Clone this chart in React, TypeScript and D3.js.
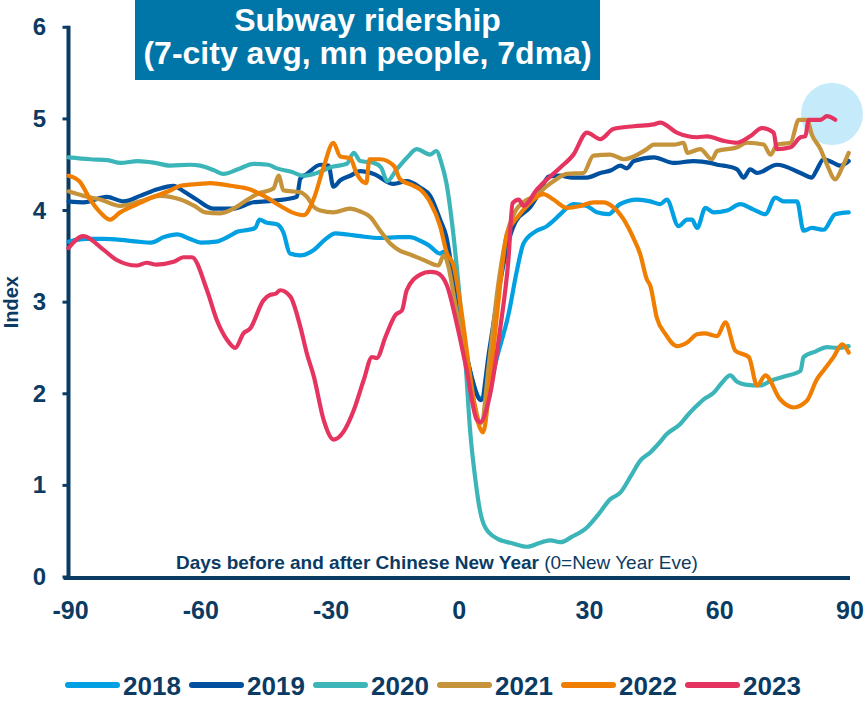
import React from 'react';
import * as d3 from 'd3';

type Pt = [number, number];

const years = ['2018', '2019', '2020', '2021', '2022', '2023'];
const xTicks = [-90, -60, -30, 0, 30, 60, 90];
const yTicks = [0, 1, 2, 3, 4, 5, 6];

const s2018: Pt[] = [
  [-90, 3.66], [-86, 3.69], [-82, 3.69], [-78, 3.68], [-74, 3.66], [-71, 3.65], [-68, 3.71], [-65, 3.74], [-62, 3.69],
  [-59.5, 3.65], [-56, 3.66], [-53, 3.72], [-51, 3.77], [-48.5, 3.79], [-47, 3.81], [-46, 3.90], [-44.5, 3.87],
  [-42, 3.85], [-40.5, 3.76], [-39, 3.53], [-36.6, 3.51], [-33.5, 3.57], [-31, 3.68], [-28.5, 3.75], [-26, 3.74],
  [-22.8, 3.72], [-18.2, 3.70], [-14, 3.71], [-11.3, 3.71], [-9, 3.67], [-7, 3.62], [-4.4, 3.53], [-3.6, 3.55],
  [-2.5, 3.45], [-1, 3.15], [1, 2.6], [3, 2.15], [5, 1.95], [6.5, 2.0], [8.7, 2.4], [11.4, 2.88], [13.3, 3.35],
  [14.8, 3.64], [17.5, 3.77], [20.2, 3.83], [21.5, 3.88], [23.3, 3.96], [26.3, 4.07], [29.4, 4.05], [31.7, 3.98],
  [34.4, 3.96], [37, 4.07], [41, 4.12], [44, 4.10], [46.3, 4.07], [47.8, 4.12], [50.5, 3.83], [52.5, 3.90],
  [53.6, 3.90], [54.8, 3.81], [56.7, 4.03], [58.6, 3.98], [61.7, 4.0], [64.7, 4.07], [67.8, 4.01], [70.5, 3.96],
  [72.8, 4.14], [74.7, 4.10], [77.8, 4.10], [79.3, 3.78], [81.2, 3.81], [83.9, 3.79], [86.6, 3.96], [89.7, 3.98],
];

const s2019: Pt[] = [
  [-90, 4.10], [-86.5, 4.09], [-81.2, 4.15], [-77.3, 4.10], [-73.5, 4.16], [-69.7, 4.23], [-65.8, 4.27], [-63.5, 4.21],
  [-60.5, 4.12], [-56.6, 4.02], [-52, 4.02], [-47.4, 4.09], [-42, 4.11], [-37.4, 4.15], [-36.6, 4.35], [-35.1, 4.40],
  [-32, 4.50], [-30.1, 4.49], [-29, 4.26], [-27.4, 4.33], [-25.1, 4.38], [-22.8, 4.43], [-19.7, 4.40], [-15.1, 4.29],
  [-12.1, 4.32], [-9, 4.25], [-6.7, 4.16], [-4.4, 3.9], [-3, 3.72], [-1.5, 3.3], [0.5, 2.7], [2.5, 2.25], [5, 1.93],
  [7, 2.5], [9, 3.1], [11, 3.6], [13, 3.88], [16.4, 4.04], [18.5, 4.2], [20.6, 4.37], [23.3, 4.38], [26, 4.36],
  [29.4, 4.36], [32.5, 4.41], [35, 4.44], [37.1, 4.49], [38.6, 4.46], [40.2, 4.54], [44.8, 4.58], [49.4, 4.52],
  [54, 4.54], [57.8, 4.52], [59.4, 4.50], [60.9, 4.49], [64, 4.45], [65.5, 4.36], [67, 4.45], [68.6, 4.41],
  [73.2, 4.50], [78.6, 4.41], [81.2, 4.36], [82.4, 4.45], [83.9, 4.56], [86.2, 4.52], [87.8, 4.49], [89.7, 4.54],
];

const s2020: Pt[] = [
  [-90, 4.58], [-85, 4.56], [-81, 4.55], [-78, 4.52], [-74, 4.54], [-70, 4.52], [-66.6, 4.49], [-62, 4.50],
  [-59.7, 4.49], [-56.5, 4.44], [-54.3, 4.40], [-51, 4.45], [-47.4, 4.51], [-44, 4.50], [-42, 4.46], [-38.5, 4.42],
  [-36, 4.38], [-33.5, 4.40], [-29, 4.48], [-25.9, 4.51], [-24.3, 4.63], [-22.8, 4.54], [-19.7, 4.52], [-18, 4.47],
  [-16.6, 4.32], [-14.4, 4.45], [-12, 4.58], [-9.8, 4.67], [-6.7, 4.61], [-5.3, 4.65], [-4, 4.50], [-3, 4.31],
  [-1.5, 3.8], [0.2, 3.0], [1.5, 2.3], [2.5, 1.6], [3.7, 1.07], [4.8, 0.72], [6, 0.54], [8.7, 0.42], [12, 0.37],
  [15.6, 0.33], [19, 0.38], [21, 0.40], [23.3, 0.38], [26, 0.44], [29.4, 0.54], [32, 0.68], [34.8, 0.85],
  [37.1, 0.92], [39.5, 1.1], [41.7, 1.27], [44, 1.36], [46, 1.46], [47.8, 1.56], [50.9, 1.67], [52.5, 1.76],
  [54.5, 1.86], [56.3, 1.94], [58.6, 2.01], [60.5, 2.12], [62.4, 2.20], [64, 2.13], [65.9, 2.10], [69.3, 2.09],
  [71.7, 2.14], [75, 2.19], [78.6, 2.25], [79.3, 2.40], [82, 2.46], [84.7, 2.51], [87, 2.50], [89.7, 2.52],
];

const s2021: Pt[] = [
  [-90, 4.21], [-86.5, 4.16], [-82.7, 4.12], [-78, 4.05], [-73.5, 4.10], [-68.9, 4.16], [-64.2, 4.12], [-61, 4.05],
  [-58.5, 3.98], [-55, 3.97], [-52, 4.02], [-49.7, 4.09], [-46.6, 4.18], [-42.8, 4.24], [-41.6, 4.38], [-40.5, 4.22],
  [-36.6, 4.20], [-35.1, 4.15], [-33.5, 4.04], [-32, 4.0], [-29, 3.98], [-25.2, 4.02], [-22.8, 3.99], [-20.5, 3.93],
  [-18.2, 3.78], [-15.9, 3.64], [-13.6, 3.56], [-11.3, 3.52], [-8.2, 3.46], [-4.8, 3.40], [-3.6, 3.51], [-2.5, 3.39],
  [-1, 3.0], [1, 2.5], [3, 2.0], [5, 1.68], [7, 2.4], [9, 3.2], [11, 3.75], [13, 4.0], [15, 4.1], [17.9, 4.17],
  [20, 4.26], [21.7, 4.32], [24.8, 4.40], [28.6, 4.41], [30.9, 4.60], [34.8, 4.61], [37.9, 4.56], [43.2, 4.67],
  [44.8, 4.72], [49.4, 4.72], [51.7, 4.74], [52.5, 4.63], [55.5, 4.67], [58.2, 4.56], [59.4, 4.65], [64, 4.69],
  [66.3, 4.74], [70.1, 4.72], [71.7, 4.61], [73.2, 4.72], [76.3, 4.74], [78.2, 4.99], [80.1, 4.99], [81.2, 4.83],
  [83.2, 4.67], [84.7, 4.50], [86.6, 4.34], [88.2, 4.47], [89.7, 4.63],
];

const s2022: Pt[] = [
  [-90, 4.38], [-87.5, 4.32], [-85, 4.12], [-82.7, 3.98], [-80.4, 3.90], [-78.1, 3.98], [-75, 4.05], [-71, 4.14],
  [-67, 4.21], [-64.2, 4.27], [-60, 4.29], [-57.4, 4.30], [-52.7, 4.27], [-48.1, 4.23], [-45, 4.16], [-41.2, 4.05],
  [-38.5, 3.98], [-35.8, 3.95], [-33.5, 4.13], [-31.2, 4.48], [-29, 4.74], [-27.4, 4.59], [-25.1, 4.57], [-23.6, 4.40],
  [-21.4, 4.30], [-20.7, 4.56], [-18.2, 4.56], [-15.1, 4.49], [-13.6, 4.34], [-10.5, 4.27], [-9, 4.23], [-6.7, 4.09],
  [-4.4, 3.83], [-2.9, 3.54], [-1.3, 3.40], [0.5, 2.9], [2.5, 2.2], [4, 1.75], [5.5, 1.58], [7, 2.1], [9, 3.0],
  [11, 3.75], [13.3, 3.92], [15.6, 4.05], [19.4, 4.18], [21.7, 4.12], [24.8, 4.03], [27.9, 4.05], [30.9, 4.09],
  [33.2, 4.09], [36.3, 4.0], [37.9, 3.90], [40.2, 3.69], [41.7, 3.52], [43.2, 3.25], [44, 3.18], [45.5, 2.83],
  [47.5, 2.65], [50.1, 2.52], [52.5, 2.56], [54.8, 2.65], [56.5, 2.66], [59.4, 2.63], [61.3, 2.78], [63.6, 2.47],
  [66.7, 2.40], [68.6, 2.09], [70.5, 2.20], [73.9, 1.94], [77, 1.85], [80, 1.92], [82.4, 2.16], [84, 2.26],
  [86.2, 2.40], [88.2, 2.54], [89.7, 2.45],
];

const s2023: Pt[] = [
  [-90, 3.59], [-86.6, 3.72], [-81.9, 3.57], [-78.9, 3.46], [-74.3, 3.40], [-72, 3.43], [-69.7, 3.41], [-65.8, 3.44],
  [-63.5, 3.49], [-61.6, 3.49], [-58.1, 3.13], [-55.8, 2.80], [-53.5, 2.59], [-51.6, 2.50], [-49.7, 2.66],
  [-48.2, 2.71], [-45.1, 3.02], [-43.5, 3.08], [-42.4, 3.09], [-41.2, 3.13], [-38.9, 3.06], [-36.6, 2.73],
  [-35.1, 2.44], [-33.5, 2.19], [-31.2, 1.71], [-28.9, 1.50], [-26.6, 1.59], [-24.3, 1.82], [-22, 2.15],
  [-20.1, 2.40], [-19, 2.39], [-17, 2.62], [-14.7, 2.86], [-13.2, 2.91], [-12.1, 3.13], [-9, 3.30], [-6.7, 3.33],
  [-5.2, 3.32], [-2.9, 3.19], [-0.6, 2.77], [1.7, 2.26], [4, 1.72], [4.8, 1.69], [7, 1.97], [9.4, 2.7], [11.3, 3.45],
  [12.3, 4.08], [13.7, 4.12], [14.8, 4.05], [17.9, 4.23], [20.2, 4.34], [23.3, 4.47], [26.3, 4.61], [29.4, 4.85],
  [32.5, 4.78], [35.5, 4.89], [40.2, 4.92], [44.8, 4.94], [46.3, 4.96], [50.1, 4.85], [54.8, 4.80], [57.1, 4.81],
  [60.9, 4.76], [64, 4.74], [67, 4.81], [69.7, 4.90], [72.4, 4.85], [73.2, 4.67], [76.3, 4.69], [78.6, 4.80],
  [79.7, 4.81], [80.5, 4.99], [83.2, 4.99], [84.7, 5.03], [86.6, 4.99],
];

const seriesData = [s2018, s2019, s2020, s2021, s2022, s2023];
const colors = ['#00a0e2', '#0050a0', '#3cb5b9', '#c5933a', '#f07e00', '#e5345f'];
const NAVY = '#0b3b63';
const FONT = '"Liberation Sans", Arial, sans-serif';

export default function App() {
  const W = 864;
  const H = 701;
  const x = d3.scaleLinear().domain([-90, 90]).range([68.5, 850]);
  const y = d3.scaleLinear().domain([0, 6]).range([577, 27.3]);
  const line = d3
    .line<Pt>()
    .x((d) => x(d[0]))
    .y((d) => y(d[1]))
    .curve(d3.curveMonotoneX);

  const legendX0 = 65;
  const legendStep = 124;

  return (
    <svg
      width={W}
      height={H}
      style={{ position: 'absolute', left: 0, top: 0, background: '#fff' }}
      fontFamily={FONT}
    >
      {/* highlight circle */}
      <circle cx={832} cy={114} r={31} fill="#c5eafa" />

      {/* title box */}
      <rect x={135} y={0} width={465} height={80} fill="#0075a8" />
      <text x={367.5} y={31} textAnchor="middle" fill="#fff" fontWeight="bold" fontSize={32}>
        Subway ridership
      </text>
      <text x={367.5} y={64} textAnchor="middle" fill="#fff" fontWeight="bold" fontSize={32}>
        (7-city avg, mn people, 7dma)
      </text>

      {/* y axis */}
      <line x1={x(-90)} x2={x(-90)} y1={y(6) - 1.5} y2={y(0)} stroke={NAVY} strokeWidth={4} />
      {yTicks.map((t) => (
        <g key={t}>
          <line x1={x(-90) - 6} x2={x(-90)} y1={y(t)} y2={y(t)} stroke={NAVY} strokeWidth={3} />
          <text
            x={46}
            y={y(t) + 8}
            textAnchor="end"
            fill={NAVY}
            fontWeight="bold"
            fontSize={24}
          >
            {t}
          </text>
        </g>
      ))}
      <text
        transform={`translate(18, ${y(3)}) rotate(-90)`}
        textAnchor="middle"
        fill={NAVY}
        fontWeight="bold"
        fontSize={20}
      >
        Index
      </text>

      {/* x tick labels */}
      {xTicks.map((t) => (
        <text
          key={t}
          x={x(t) + (t < 0 ? 2 : 0)}
          y={619}
          textAnchor="middle"
          fill={NAVY}
          fontWeight="bold"
          fontSize={25}
        >
          {t}
        </text>
      ))}

      <text x={176} y={569} fill={NAVY} fontSize={19}>
        <tspan fontWeight="bold">Days before and after Chinese New Year</tspan>
        <tspan> (0=New Year Eve)</tspan>
      </text>

      {/* series */}
      {seriesData.map((s, i) => (
        <path
          key={years[i]}
          d={line(s) || ''}
          fill="none"
          stroke={colors[i]}
          strokeWidth={4.2}
          strokeLinejoin="round"
          strokeLinecap="round"
        />
      ))}

      {/* x axis line */}
      <line x1={x(-90) - 5} x2={x(90)} y1={y(0) + 1} y2={y(0) + 1} stroke={NAVY} strokeWidth={4} />

      {/* legend */}
      {years.map((yr, i) => {
        const lx = legendX0 + i * legendStep;
        return (
          <g key={yr}>
            <line
              x1={lx + 3}
              x2={lx + 52}
              y1={685}
              y2={685}
              stroke={colors[i]}
              strokeWidth={6}
              strokeLinecap="round"
            />
            <text x={lx + 58} y={695} fill={NAVY} fontWeight="bold" fontSize={26}>
              {yr}
            </text>
          </g>
        );
      })}
    </svg>
  );
}
